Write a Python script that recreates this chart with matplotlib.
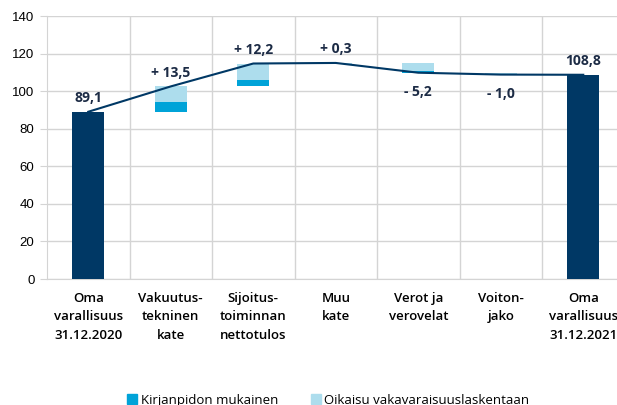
import numpy as np
import matplotlib.pyplot as plt
from matplotlib.patches import Patch

# Waterfall data (MEUR)
categories = ['Oma\nvarallisuus\n31.12.2020', 'Vakuutus-\ntekninen\nkate',
              'Sijoitus-\ntoiminnan\nnettotulos', 'Muu\nkate', 'Verot ja\nverovelat',
              'Voiton-\njako', 'Oma\nvarallisuus\n31.12.2021']
start_value = 89.1
end_value = 108.8
changes = [13.5, 12.2, 0.3, -5.2, -1.0]
# split of each change: accounting part and solvency adjustment part
accounting = [5.4, 3.4, 0.0, -1.0, 0.0]
adjustment = [8.1, 8.8, 0.3, -4.2, -1.0]
change_labels = ['+ 13,5', '+ 12,2', '+ 0,3', '- 5,2', '- 1,0']
total_labels = ['89,1', '108,8']
legend_labels = ['Kirjanpidon mukainen', 'Oikaisu vakavaraisuuslaskentaan']

navy = '#003865'
cyan = '#00A3D8'
light = '#ADDDED'
grid = '#D4D4D4'
txt = '#1C2B45'

fig = plt.figure(figsize=(6.17, 4.05), dpi=100)
ax = fig.add_axes([0.0762, 0.311, 0.936, 0.649])

x = np.arange(len(categories))
w = 0.39

ax.bar(x[0], start_value, width=w, color=navy, zorder=3)
ax.bar(x[-1], end_value, width=w, color=navy, zorder=3)

levels = [start_value]
for i, c in enumerate(changes):
    prev = levels[-1]
    cur = prev + c
    levels.append(cur)
    base = min(prev, cur)
    a = abs(accounting[i])
    b = abs(adjustment[i])
    if a > 0:
        ax.bar(x[i + 1], a, bottom=base, width=w, color=cyan, zorder=3)
    if b > 0:
        ax.bar(x[i + 1], b, bottom=base + a, width=w, color=light, zorder=3)
levels.append(end_value)

ax.plot(x, levels, color=navy, lw=1.5, zorder=4)

lbl_font = dict(family='Open Sans', fontsize=10, fontweight='bold', color=txt)
ax.text(x[0], start_value + 3.5, total_labels[0], ha='center', va='bottom', **lbl_font)
ax.text(x[-1], end_value + 3.5, total_labels[1], ha='center', va='bottom', **lbl_font)
for i, c in enumerate(changes):
    top = max(levels[i], levels[i + 1])
    bot = min(levels[i], levels[i + 1])
    if c > 0:
        ax.text(x[i + 1], top + 3.5, change_labels[i], ha='center', va='bottom', **lbl_font)
    else:
        ax.text(x[i + 1], bot - 6.5, change_labels[i], ha='center', va='top', **lbl_font)

ax.set_xlim(-0.5, len(categories) - 0.5)
ax.set_ylim(0, 140)
ax.set_yticks(np.arange(0, 141, 20))
ax.set_xticks(x)
ax.set_xticklabels(categories, family='Open Sans', fontsize=9.5, fontweight='semibold',
                   color='black', linespacing=1.55)
ax.set_xticks(np.arange(0.5, len(categories) - 0.5, 1), minor=True)
ax.tick_params(axis='x', which='both', length=0, pad=9)
ax.tick_params(axis='y', length=5, color=grid, labelsize=9.5, pad=4)
for t in ax.get_yticklabels():
    t.set_family('Liberation Sans')

ax.grid(axis='y', color=grid, lw=1, zorder=0)
ax.grid(axis='x', which='minor', color=grid, lw=1, zorder=0)
for s in ['top', 'right']:
    ax.spines[s].set_visible(False)
ax.spines['left'].set_color(grid)
ax.spines['bottom'].set_color(grid)

# legend sits at the very bottom edge of the figure
handles = [Patch(color=cyan), Patch(color=light)]
fig.legend(handles, legend_labels, loc='center', bbox_to_anchor=(0.532, 0.012), ncol=2,
           frameon=False, prop={'family': 'Open Sans', 'size': 9.5},
           handlelength=0.75, handleheight=0.8, handletextpad=0.25, columnspacing=2.5)

fig.savefig('out.png', dpi=100)
